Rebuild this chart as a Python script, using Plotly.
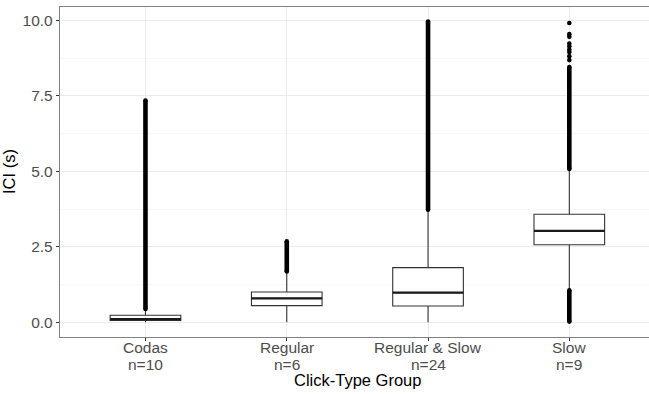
import plotly.graph_objects as go

# ---- data ----
categories = ["Codas", "Regular", "Regular & Slow", "Slow"]
n_labels = ["n=10", "n=6", "n=24", "n=9"]
positions = [1, 2, 3, 4]
q1 = [0.06, 0.55, 0.54, 2.57]
median = [0.10, 0.79, 0.98, 3.03]
q3 = [0.23, 1.00, 1.81, 3.58]
lower_fence = [0.00, 0.00, 0.00, 1.10]
upper_fence = [0.41, 1.64, 3.70, 5.04]
# dense runs of outliers (start, end) per group
outlier_runs = [
    [(0.44, 7.35)],
    [(1.68, 2.68)],
    [(3.73, 9.97)],
    [(0.02, 1.06), (5.08, 8.46)],
]
# individually visible outliers per group
outlier_points = [
    [],
    [],
    [],
    [8.69, 8.82, 8.96, 9.04, 9.15, 9.24, 9.46, 9.55, 9.92],
]
y_ticks = [0, 2.5, 5, 7.5, 10]
y_minor = [1.25, 3.75, 6.25, 8.75]

BOX_W = 0.5
PT = 4.6
FONT = "Liberation Sans"

fig = go.Figure()

fig.add_trace(go.Box(
    x=positions, q1=q1, median=median, q3=q3,
    lowerfence=lower_fence, upperfence=upper_fence,
    width=BOX_W, boxpoints=False, whiskerwidth=0,
    fillcolor="white", line=dict(color="#333333", width=1.1),
    hoverinfo="skip", showlegend=False,
))

# thicker median lines (ggplot style)
mx, my = [], []
for p, m in zip(positions, median):
    mx += [p - BOX_W / 2, p + BOX_W / 2, None]
    my += [m, m, None]
fig.add_trace(go.Scatter(x=mx, y=my, mode="lines",
                         line=dict(color="#1a1a1a", width=2.2),
                         hoverinfo="skip", showlegend=False))

# outliers
for p, runs, pts in zip(positions, outlier_runs, outlier_points):
    ox, oy = [], []
    for a, b in runs:
        ox += [p, p, None]
        oy += [a, b, None]
    for v in pts:
        ox += [p, None]
        oy += [v, None]
    fig.add_trace(go.Scatter(x=ox, y=oy, mode="lines+markers",
                             line=dict(color="black", width=PT),
                             marker=dict(color="black", size=PT),
                             connectgaps=False,
                             hoverinfo="skip", showlegend=False))

annotations = []
for p, cat, lab in zip(positions, categories, n_labels):
    annotations.append(dict(x=p, xref="x", y=0, yref="paper", yshift=-10,
                            text=cat, showarrow=False, yanchor="middle",
                            font=dict(family=FONT, size=15.5, color="#4D4D4D")))
    annotations.append(dict(x=p, xref="x", y=0, yref="paper", yshift=-27,
                            text=lab, showarrow=False, yanchor="middle",
                            font=dict(family=FONT, size=15.5, color="#4D4D4D")))
annotations.append(dict(x=2.5, xref="x", y=0, yref="paper", yshift=-42.5,
                        text="Click-Type Group", showarrow=False, yanchor="middle",
                        font=dict(family=FONT, size=16.5, color="black")))
annotations.append(dict(x=0, xref="paper", xshift=-51, y=0.5, yref="paper",
                        text="ICI (s)", showarrow=False, textangle=-90,
                        xanchor="center", yanchor="middle",
                        font=dict(family=FONT, size=16.5, color="black")))

fig.update_layout(
    width=649, height=394,
    margin=dict(l=60, r=0, t=7, b=57, autoexpand=False),
    paper_bgcolor="white", plot_bgcolor="white",
    font=dict(family=FONT),
    showlegend=False,
    annotations=annotations,
    xaxis=dict(
        range=[0.395, 4.564], automargin=False,
        tickvals=positions, showticklabels=False,
        showgrid=True, gridcolor="#EBEBEB", gridwidth=1,
        zeroline=False,
        showline=True, mirror=True, linecolor="#808080", linewidth=1.2,
        ticks="outside", ticklen=3, tickcolor="#333333",
    ),
    yaxis=dict(
        range=[-0.49, 10.45], automargin=False,
        tickvals=y_ticks, ticktext=[f"{v:.1f}" for v in y_ticks],
        showgrid=True, gridcolor="#EBEBEB", gridwidth=1,
        minor=dict(tickvals=y_minor, showgrid=True, gridcolor="#F4F4F4", gridwidth=0.6),
        zeroline=False,
        showline=True, mirror=False, linecolor="#808080", linewidth=1.2,
        ticks="outside", ticklen=3, tickcolor="#333333",
        tickfont=dict(family=FONT, size=15.5, color="#4D4D4D"),
    ),
)

fig.write_html("out.html",
               config={"displayModeBar": False, "staticPlot": True},
               post_script="document.body.style.margin='0';document.body.style.overflow='hidden';")
